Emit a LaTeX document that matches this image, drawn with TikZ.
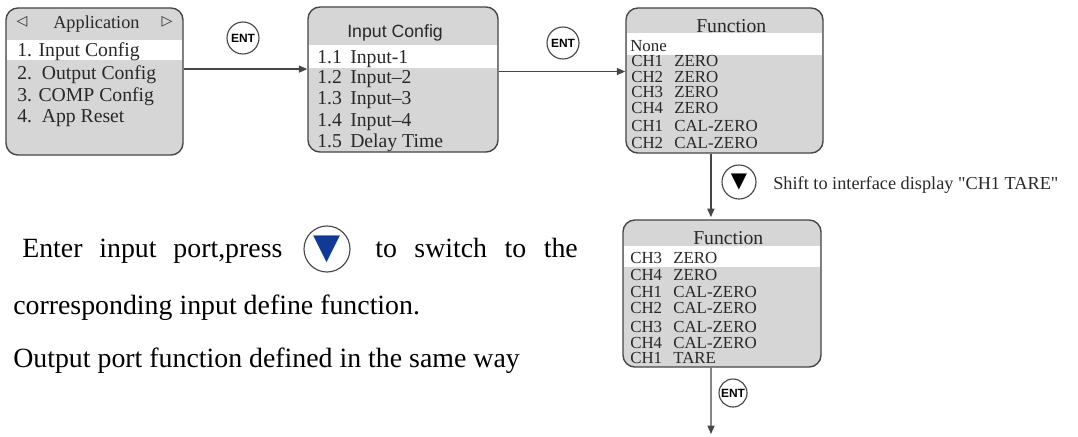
\documentclass[tikz,border=0pt]{standalone}
\usepackage{fontspec}
\setmainfont{Liberation Serif}
\setsansfont{Liberation Sans}
\newfontfamily\symfont{DejaVu Sans}
\usetikzlibrary{arrows.meta,positioning,calc}
\definecolor{panelgray}{RGB}{214,214,214}
\definecolor{edgegray}{RGB}{70,70,70}
\definecolor{inkgray}{RGB}{40,40,40}
\definecolor{keyblue}{RGB}{16,58,150}
\tikzset{
  panel/.style ={draw=edgegray,line width=1pt,rounded corners=8.5pt,fill=panelgray,inner sep=0pt},
  band/.style  ={fill=white},
  ln/.style    ={anchor=base west,inner sep=0pt,text=inkgray,font=\fontsize{12}{12}\selectfont},
  item/.style  ={anchor=base west,inner sep=0pt,text=inkgray,font=\fontsize{14}{14}\selectfont},
  key/.style   ={circle,draw=edgegray,line width=0.8pt,minimum size=0.8cm,inner sep=0pt,fill=white},
  ent/.style   ={key,font=\sffamily\bfseries\fontsize{8.5}{8.5}\selectfont},
  ar/.style    ={draw=edgegray,line width=0.9pt,-{Triangle[length=6pt,width=5pt]}},
  note/.style  ={anchor=base west,inner sep=0pt,font=\fontsize{19.8}{19.8}\selectfont},
}
\begin{document}
\begin{tikzpicture}[x=0.025cm,y=-0.025cm]
  \useasboundingbox (0,0) rectangle (1078,436);
  % panels
  \node[panel,minimum width=4.425cm,minimum height=3.675cm] (app) at (94.5,81.5){};
  \node[panel,minimum width=4.75cm,minimum height=3.625cm] (incfg) at (403,79.5){};
  \node[panel,minimum width=4.925cm,minimum height=3.625cm] (fun1) at (724.5,80.5){};
  \node[panel,minimum width=4.95cm,minimum height=3.675cm] (fun2) at (722,293.5){};
  \fill[band] (6.7,40) rectangle (182.3,60);
  \fill[band] (308.7,45) rectangle (497.3,68);
  \fill[band] (626.7,33) rectangle (822.3,55);
  \fill[band] (623.7,246) rectangle (820.3,267);
  % application menu
  \node[text=inkgray,font=\symfont\fontsize{10}{10}\selectfont] (pl) at (22,22){◁};
  \node[text=inkgray,font=\symfont\fontsize{10}{10}\selectfont] (pr) at (167,22){▷};
  \node[item,font=\fontsize{13}{13}\selectfont] (appt) at (53,28){Application};
  \foreach \y/\t [count=\i] in {56/1. Input Config,79/2.\ \ Output Config,
      101/3. COMP Config,122/4.\ \ App Reset}
    \node[item] (app\i) at (17,\y){\t};
  % input config
  \node[item,font=\sffamily\fontsize{12.6}{12.6}\selectfont] (inct) at (347,37){Input Config};
  \foreach \y/\n/\t [count=\i] in {63/1.1/Input-1,83/1.2/Input–2,104/1.3/Input–3,
      126/1.4/Input–4,147/1.5/Delay Time}{
    \node[item] (incn\i) at (317,\y){\n};
    \node[item] (inct\i) at (350,\y){\t};}
  % function lists
  \node[item] (f1t) at (696,32){Function};
  \node[ln] (f1a0) at (630,51){None};
  \foreach \y/\c/\t [count=\i] in {66/CH1/ZERO,82/CH2/ZERO,97/CH3/ZERO,113/CH4/ZERO,
      131/CH1/CAL-ZERO,148/CH2/CAL-ZERO}{
    \node[ln] (f1a\i) at (631,\y){\c};
    \node[ln] (f1b\i) at (674,\y){\t};}
  \node[item] (f2t) at (693,244){Function};
  \foreach \y/\c/\t [count=\i] in {263/CH3/ZERO,280/CH4/ZERO,297/CH1/CAL-ZERO,
      313/CH2/CAL-ZERO,332/CH3/CAL-ZERO,348/CH4/CAL-ZERO,363/CH1/TARE}{
    \node[ln] (f2a\i) at (630,\y){\c};
    \node[ln] (f2b\i) at (673,\y){\t};}
  % keys
  \node[ent] (k1) at (243,38){ENT};
  \node[ent] (k2) at (563,43){ENT};
  \node[ent,minimum size=0.7cm] (k3) at (733,393){ENT};
  \node[key,minimum size=0.85cm,font=\symfont\fontsize{15}{15}\selectfont] (kd) at (739,182){▼};
  \node[anchor=base west,inner sep=0pt,text=inkgray,font=\fontsize{13}{13}\selectfont] (shift) at (773,189)
    {Shift to interface display \textquotedbl CH1 TARE\textquotedbl};
  % connectors
  \coordinate (a1) at ([yshift=0.31cm]app.east);
  \coordinate (a2) at ([yshift=0.2cm]incfg.east);
  \coordinate (d1) at ([xshift=-0.34cm]fun1.south);
  \coordinate (d2) at ([xshift=-0.275cm]fun2.south);
  \coordinate (tail) at (711,434);
  \draw[ar] (a1) -- (a1 -| incfg.west);
  \draw[ar] (a2) -- (a2 -| fun1.west);
  \draw[ar,shorten >=1.5pt] (d1) -- (d1 |- fun2.north);
  \draw[ar] (d2) -- (tail);
  % notes
  \node[note] (t1a) at (22,257){\makebox[185pt][s]{Enter input port,press}};
  \node[key,minimum size=1.15cm,text=keyblue,font=\symfont\fontsize{25}{25}\selectfont] (kl) at (327,249){▼};
  \node[note] (t1b) at (375,257){\makebox[144pt][s]{to switch to the}};
  \node[note] (t2) at (13,314){corresponding input define function.};
  \node[note] (t3) at (13,367){Output port function defined in the same way};
\end{tikzpicture}
\end{document}
